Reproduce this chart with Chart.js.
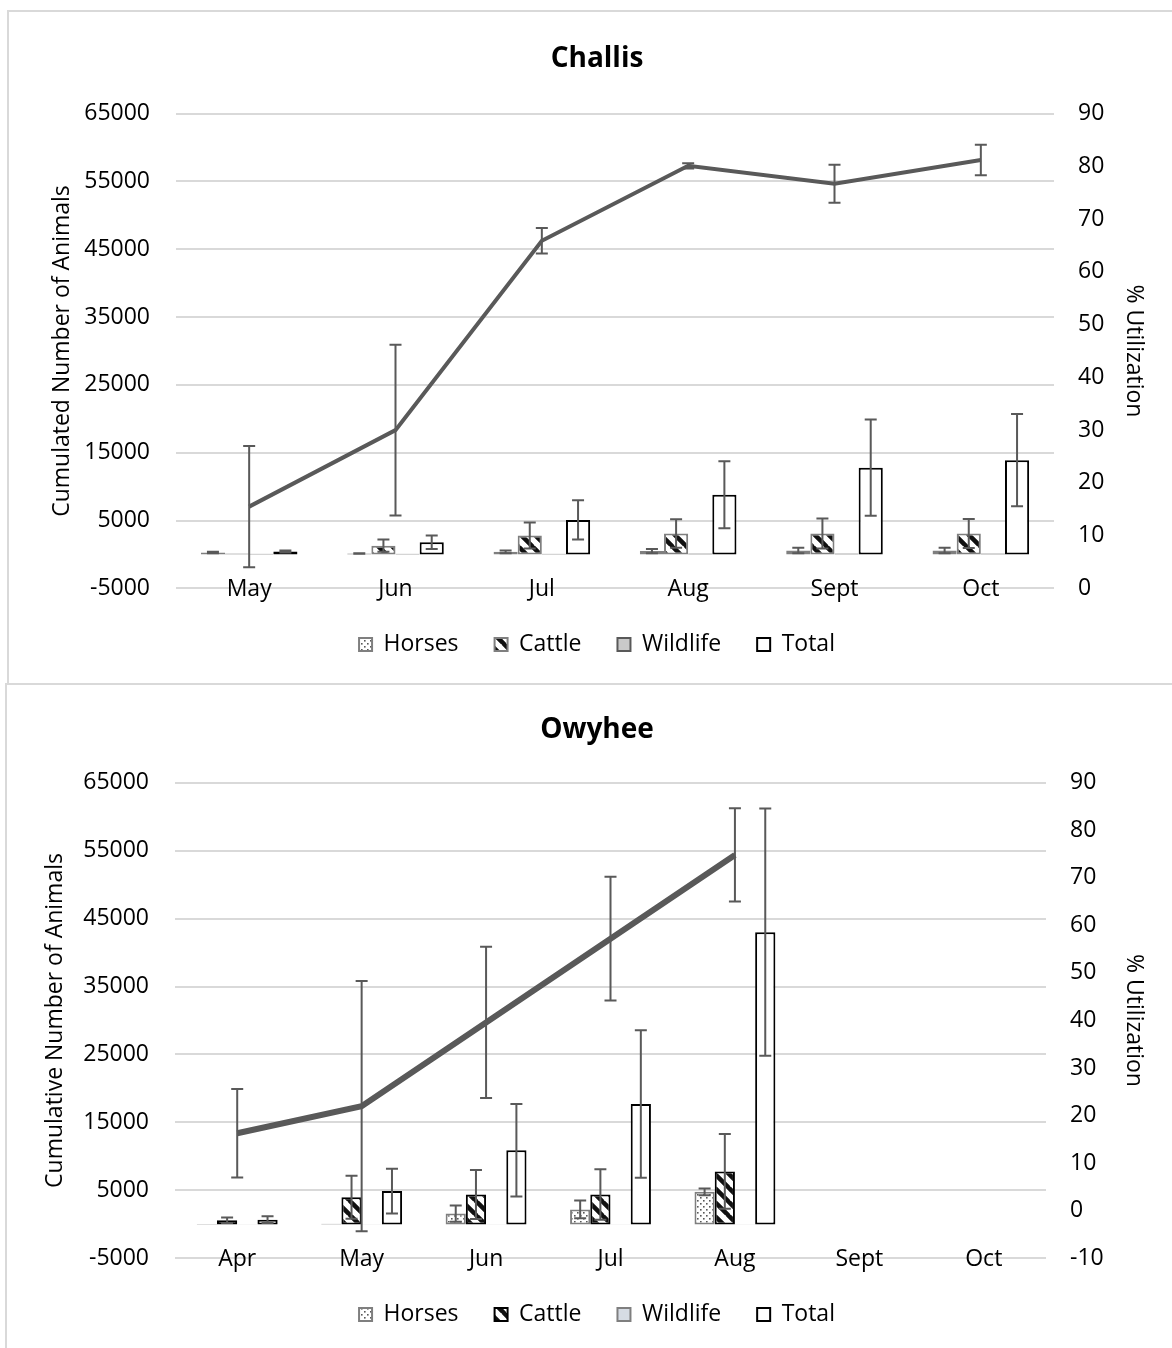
<!DOCTYPE html>
<html>
<head>
<meta charset="utf-8">
<script src="https://cdn.jsdelivr.net/npm/chart.js@4.4.1/dist/chart.umd.min.js"></script>
<style>
  html, body { margin: 0; padding: 0; background: #fff; overflow: hidden; }
  body { position: relative; width: 1172px; height: 1348px; }
  .frame { position: absolute; border: 2px solid #d9d9d9; box-sizing: border-box; }
  canvas { position: absolute; left: 0; }
</style>
</head>
<body>
<div class="frame" style="left:7px; top:10px; width:1200px; height:675px;"></div>
<div class="frame" style="left:5px; top:683px; width:1200px; height:700px;"></div>
<canvas id="challisChart" width="1172" height="683" style="top:0"></canvas>
<canvas id="owyheeChart" width="1172" height="665" style="top:683px"></canvas>
<script>
// Challis
const challisMonths = ["May", "Jun", "Jul", "Aug", "Sept", "Oct"];
const challisHorses = [300, 150, 400, 500, 600, 600];
const challisHorsesErr = [100, 50, 200, 300, 400, 400];
const challisCattle = [150, 1300, 2800, 3100, 3100, 3100];
const challisCattleErr = [0, 900, 1900, 2100, 2200, 2150];
const challisWildlife = [100, 100, 100, 150, 150, 150];
const challisTotal = [450, 1800, 5100, 8800, 12800, 13900];
const challisTotalErr = [150, 1000, 2900, 4950, 7100, 6800];
const challisUtil = [15.5, 30, 65.9, 80.1, 76.7, 81.2];
const challisUtilErr = [11.5, 16.2, 2.4, 0.5, 3.6, 2.9];

// Owyhee
const owyheeMonths = ["Apr", "May", "Jun", "Jul", "Aug", "Sept", "Oct"];
const owyheeHorses = [60, 100, 1600, 2200, 4800, null, null];
const owyheeHorsesErr = [0, 0, 1200, 1300, 500, null, null];
const owyheeCattle = [600, 4000, 4400, 4400, 7800, null, null];
const owyheeCattleErr = [400, 3150, 3600, 3700, 5500, null, null];
const owyheeWildlife = [40, 40, 40, 40, 40, null, null];
const owyheeTotal = [700, 4900, 10900, 17700, 43000, null, null];
const owyheeTotalErr = [500, 3300, 6800, 10850, 18200, null, null];
const owyheeUtil = [16.3, 22, 39.6, 57.2, 74.8, null, null];
const owyheeUtilErr = [9.3, 26.3, 15.9, 13, 9.8, null, null];

// axis ranges [min, max, step]
const countAxis = [-5000, 65000, 10000];
const challisUtilAxis = [0, 90, 10];
const owyheeUtilAxis = [-10, 90, 10];

const FONT = "'Open Sans', 'Noto Sans', sans-serif";
const PAD_LEFT = 22;

// hatch fills for the bars
function dotPattern(color) {
  const c = document.createElement("canvas");
  c.width = 6; c.height = 6;
  const g = c.getContext("2d");
  g.fillStyle = "#fff";
  g.fillRect(0, 0, 6, 6);
  g.fillStyle = color;
  g.fillRect(1, 1, 1.6, 1.6);
  g.fillRect(4, 4, 1.6, 1.6);
  return g.createPattern(c, "repeat");
}

function stripePattern(color, width) {
  const s = 14;
  const c = document.createElement("canvas");
  c.width = s; c.height = s;
  const g = c.getContext("2d");
  g.fillStyle = "#fff";
  g.fillRect(0, 0, s, s);
  g.strokeStyle = color;
  g.lineWidth = width;
  g.beginPath();
  [-s, 0, s].forEach((o) => {
    g.moveTo(o - 1, -1);
    g.lineTo(o + s + 1, s + 1);
  });
  g.stroke();
  return g.createPattern(c, "repeat");
}

// draws +/- error bars from the dataset's `errors` array
const errorBarPlugin = {
  id: "errorBars",
  afterDatasetsDraw(chart) {
    const ctx = chart.ctx;
    chart.data.datasets.forEach((ds, di) => {
      if (!ds.errors) return;
      const meta = chart.getDatasetMeta(di);
      const scale = chart.scales[meta.yAxisID];
      ctx.save();
      ctx.strokeStyle = "#595959";
      ctx.lineWidth = 2;
      meta.data.forEach((el, i) => {
        const v = ds.data[i];
        const e = ds.errors[i];
        if (v == null || !e) return;
        const x = el.x;
        const yTop = scale.getPixelForValue(v + e);
        const yBot = scale.getPixelForValue(v - e);
        ctx.beginPath();
        ctx.moveTo(x, yTop); ctx.lineTo(x, yBot);
        ctx.moveTo(x - 6, yTop); ctx.lineTo(x + 6, yTop);
        ctx.moveTo(x - 6, yBot); ctx.lineTo(x + 6, yBot);
        ctx.stroke();
      });
      ctx.restore();
    });
  },
};

function buildChart(id, cfg) {
  const ctx = document.getElementById(id).getContext("2d");
  const barCommon = { type: "bar", yAxisID: "y", order: 1, borderWidth: 2, borderSkipped: false };
  return new Chart(ctx, {
    data: {
      labels: cfg.labels,
      datasets: [
        {
          type: "line",
          label: "% Utilization",
          data: cfg.util,
          errors: cfg.utilErr,
          yAxisID: "y2",
          order: 0,
          borderColor: "#595959",
          borderWidth: cfg.lineWidth,
          pointRadius: 0,
          tension: 0,
          fill: false,
        },
        Object.assign({}, barCommon, {
          label: "Horses",
          data: cfg.horses,
          errors: cfg.horsesErr,
          backgroundColor: dotPattern("#595959"),
          borderColor: "#7f7f7f",
        }),
        Object.assign({}, barCommon, {
          label: "Cattle",
          data: cfg.cattle,
          errors: cfg.cattleErr,
          backgroundColor: stripePattern("#111", 4.5),
          borderColor: cfg.cattleBorder,
        }),
        Object.assign({}, barCommon, {
          label: "Wildlife",
          data: cfg.wildlife,
          backgroundColor: cfg.wildlifeFill,
          borderColor: cfg.wildlifeBorder,
        }),
        Object.assign({}, barCommon, {
          label: "Total",
          data: cfg.total,
          errors: cfg.totalErr,
          backgroundColor: "#ffffff",
          borderColor: "#000000",
        }),
      ],
    },
    options: {
      responsive: false,
      animation: false,
      datasets: {
        bar: { categoryPercentage: cfg.catPct, barPercentage: 1.0 },
      },
      layout: { padding: { left: PAD_LEFT, bottom: cfg.bottomPad } },
      plugins: {
        tooltip: { enabled: false },
        title: {
          display: true,
          text: cfg.title,
          color: "#000",
          font: { family: FONT, size: 28, weight: "bold" },
          padding: { top: cfg.titleTop, bottom: cfg.titleBottom },
        },
        legend: {
          position: "bottom",
          labels: {
            filter: (item, data) => data.datasets[item.datasetIndex].type !== "line",
            boxWidth: 13,
            boxHeight: 13,
            color: "#000",
            padding: 36,
            font: { family: FONT, size: 23 },
          },
        },
      },
      scales: {
        x: {
          grid: { display: false },
          border: { display: false },
          ticks: {
            color: "#000",
            padding: -21,
            maxRotation: 0,
            font: { family: FONT, size: 23 },
          },
          // month labels sit over the bottom gridline, so let them draw outside the axis box;
          // extra height pushes the legend down
          afterFit: (s) => {
            s._computeLabelArea = () => undefined;
            s.height += 15;
          },
        },
        y: {
          position: "left",
          min: countAxis[0],
          max: countAxis[1],
          ticks: {
            stepSize: countAxis[2],
            color: "#000",
            padding: 26,
            font: { family: FONT, size: 23 },
            callback: (v) => String(v),
          },
          grid: { color: "#d9d9d9", lineWidth: 2, drawTicks: false },
          border: { display: false },
          title: {
            display: true,
            text: cfg.leftTitle,
            color: "#000",
            font: { family: FONT, size: 23 },
            padding: { top: cfg.leftTitlePad - PAD_LEFT, bottom: 0 },
          },
          afterFit: (s) => { s.width = cfg.plotLeft - PAD_LEFT; },
        },
        y2: {
          position: "right",
          min: cfg.utilAxis[0],
          max: cfg.utilAxis[1],
          ticks: {
            stepSize: cfg.utilAxis[2],
            color: "#000",
            padding: 24,
            font: { family: FONT, size: 23 },
            callback: (v) => String(v),
          },
          grid: { display: false, drawTicks: false },
          border: { display: false },
          title: {
            display: true,
            text: "% Utilization",
            color: "#000",
            font: { family: FONT, size: 23 },
            padding: { top: 25, bottom: 0 },
          },
          afterFit: (s) => { s.width = 1172 - cfg.plotRight; },
        },
      },
    },
    plugins: [errorBarPlugin],
  });
}

buildChart("challisChart", {
  title: "Challis",
  labels: challisMonths,
  horses: challisHorses, horsesErr: challisHorsesErr,
  cattle: challisCattle, cattleErr: challisCattleErr,
  wildlife: challisWildlife,
  total: challisTotal, totalErr: challisTotalErr,
  util: challisUtil, utilErr: challisUtilErr,
  utilAxis: challisUtilAxis,
  lineWidth: 4,
  cattleBorder: "#7f7f7f",
  wildlifeFill: "#c9c9c9",
  wildlifeBorder: "#595959",
  catPct: 0.66,
  titleTop: 42,
  titleBottom: 38,
  bottomPad: 17,
  leftTitle: "Cumulated Number of Animals",
  leftTitlePad: 49,
  plotLeft: 176,
  plotRight: 1054,
});

buildChart("owyheeChart", {
  title: "Owyhee",
  labels: owyheeMonths,
  horses: owyheeHorses, horsesErr: owyheeHorsesErr,
  cattle: owyheeCattle, cattleErr: owyheeCattleErr,
  wildlife: owyheeWildlife,
  total: owyheeTotal, totalErr: owyheeTotalErr,
  util: owyheeUtil, utilErr: owyheeUtilErr,
  utilAxis: owyheeUtilAxis,
  lineWidth: 6,
  cattleBorder: "#000000",
  wildlifeFill: "#d6dce4",
  wildlifeBorder: "#7f7f7f",
  catPct: 0.65,
  titleTop: 30,
  titleBottom: 36,
  bottomPad: 12,
  leftTitle: "Cumulative Number of Animals",
  leftTitlePad: 42,
  plotLeft: 175,
  plotRight: 1046,
});
</script>
</body>
</html>
